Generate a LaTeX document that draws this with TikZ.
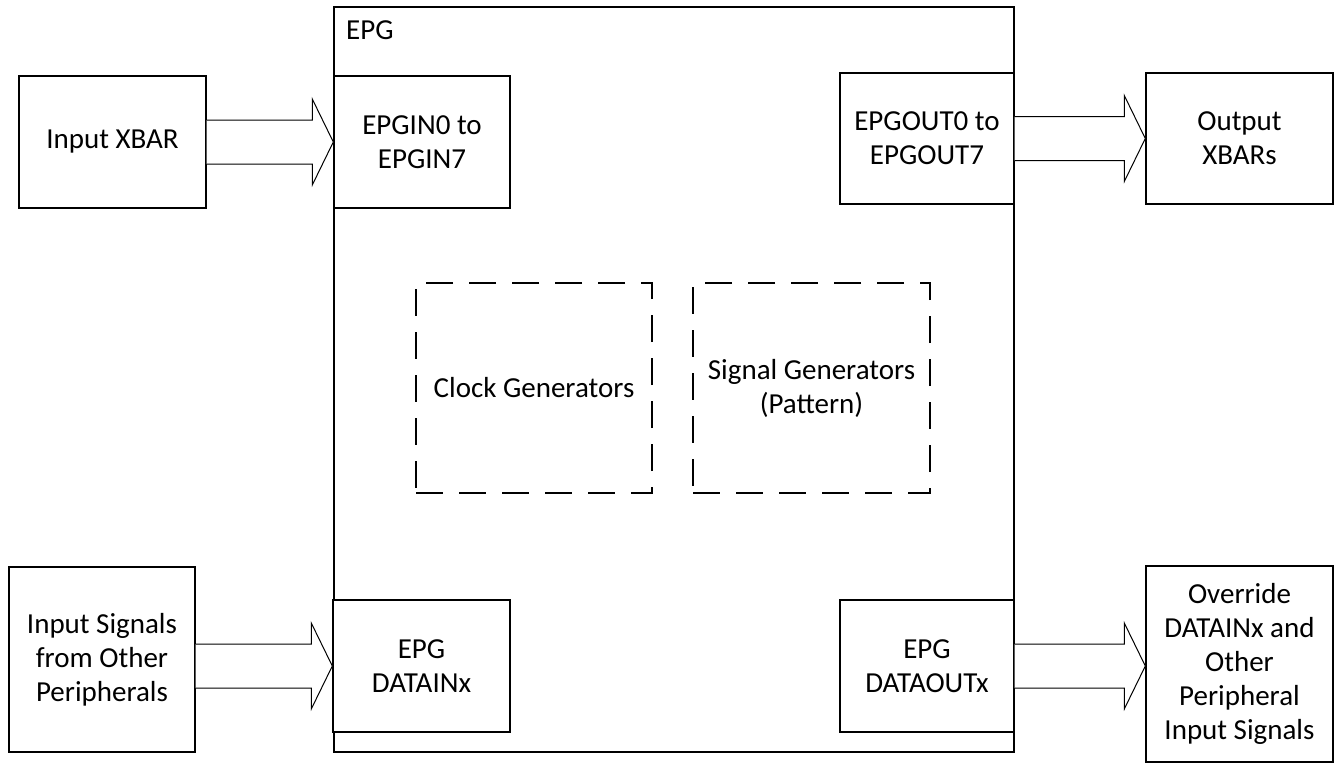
\documentclass[tikz,border=0pt]{standalone}
\usepackage{fontspec}
\setmainfont{Carlito}
\usetikzlibrary{calc}
\tikzset{
  box/.style={draw=black, line width=1.4pt, fill=white, inner sep=0pt, align=center,
    font=\fontsize{29}{34}\selectfont},
  dbox/.style={draw=black, line width=1.3pt, dash pattern=on 27pt off 16pt, inner sep=0pt,
    align=center, font=\fontsize{29}{34}\selectfont},
  barrow/.style={draw=black, line width=1pt, fill=white, line join=miter},
  lbl/.style={inner sep=0pt, font=\fontsize{29}{34}\selectfont}
}
% #1 source node, #2 target node, #3 node giving the arrow's centre line
\newcommand\blockarrow[3]{%
  \draw[barrow] let \p1=(#1.east), \p2=(#2.west), \p3=(#3.center) in
    (\x1,\y3+22pt) -- (\x2-21pt,\y3+22pt) -- (\x2-21pt,\y3+43pt) -- (\x2,\y3)
    -- (\x2-21pt,\y3-43pt) -- (\x2-21pt,\y3-22pt) -- (\x1,\y3-22pt);
}
\begin{document}
\begin{tikzpicture}[x=1pt,y=-1pt]
\useasboundingbox (0,0) rectangle (1334,764);
\fill[white] (0,0) rectangle (1334,764);

% EPG container
\node[box, minimum width=680pt, minimum height=745pt] (epg) at (674,379.5) {};
\node[lbl, anchor=north west] (epglbl) at (346,20) {EPG};

% outer boxes
\node[box, minimum width=187pt, minimum height=132pt] (inxbar) at (112.5,142) {Input XBAR};
\node[box, minimum width=187pt, minimum height=131pt] (outxbar) at (1239.5,138.5) {Output\\XBARs};
\node[box, minimum width=186pt, minimum height=185pt] (insig) at (102,659.5) {Input Signals\\from Other\\Peripherals};
\node[box, minimum width=187pt, minimum height=196pt] (override) at (1239.5,664) {Override\\DATAINx and\\Other\\Peripheral\\Input Signals};

% inner boxes
\node[box, minimum width=176pt, minimum height=132pt] (epgin) at (422,142) {EPGIN0 to\\EPGIN7};
\node[box, minimum width=174pt, minimum height=131pt] (epgout) at (927,138.5) {EPGOUT0 to\\EPGOUT7};
\node[box, minimum width=177pt, minimum height=132pt] (datain) at (421.5,666) {EPG\\DATAINx};
\node[box, minimum width=174pt, minimum height=132pt] (dataout) at (927,666) {EPG\\DATAOUTx};

% dashed generator blocks
\node[dbox, minimum width=236pt, minimum height=210pt] (clk) at (534,388) {Clock Generators};
\node[dbox, minimum width=237pt, minimum height=210pt] (sig) at (811.5,388) {Signal Generators\\(Pattern)};

% block arrows
\blockarrow{inxbar}{epgin}{epgin}
\blockarrow{epgout}{outxbar}{epgout}
\blockarrow{insig}{datain}{datain}
\blockarrow{dataout}{override}{dataout}
\end{tikzpicture}
\end{document}
